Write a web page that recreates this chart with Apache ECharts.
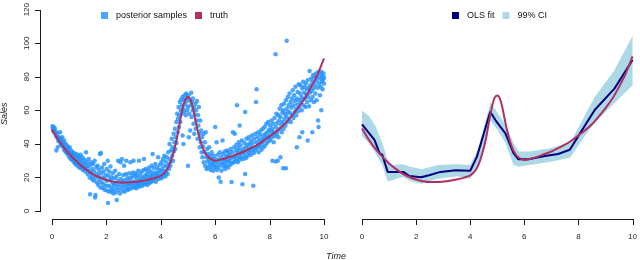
<!DOCTYPE html>
<html><head><meta charset="utf-8">
<script src="https://cdn.jsdelivr.net/npm/echarts@6/dist/echarts.min.js"></script>
<style>html,body{margin:0;padding:0;background:#fff}#c{width:640px;height:260px}</style>
</head><body><div id="c"></div>
<script>
const xTicks = [0, 2, 4, 6, 8, 10];
const yTicks = [0, 20, 40, 60, 80, 100, 120];

const samples = [
[0.02,50.5],[0.03,49],[0.05,47.5],[0.06,50],[0.08,48],[0.1,46.5],[0.11,49],[0.13,47],[0.15,45],[0.16,36],[0.18,44],[0.2,46.5],[0.21,38],[0.22,43],[0.24,41.5],[0.26,44],[0.28,42],[0.3,47],[0.31,40],[0.33,43],[0.35,39],[0.37,41],[0.38,44],[0.4,38.5],[0.42,40.5],[0.44,36.5],[0.45,42],[0.47,38],[0.49,35.5],[0.5,40],
[0.52,37],[0.54,34.5],[0.55,39],[0.57,36],[0.59,33.5],[0.6,37.5],[0.62,35],[0.64,32],[0.65,38],[0.67,34],[0.69,31],[0.7,36],[0.72,33],[0.74,30.5],[0.75,35],[0.77,32.5],[0.79,29.5],[0.8,34.5],[0.82,31],[0.84,28.5],[0.85,33],[0.87,30],[0.89,27.5],[0.9,34],[0.92,29.5],[0.94,31.5],[0.95,27],[0.97,33],[0.99,29],[1.0,26],
[1.02,31],[1.04,28],[1.05,33.5],[1.07,25.5],[1.09,30],[1.1,27],[1.12,32],[1.14,24.5],[1.16,28.5],[1.18,26],[1.2,30.5],[1.22,23.5],[1.24,27.5],[1.25,35],[1.27,25],[1.29,29],[1.31,22],[1.33,26.5],[1.35,31],[1.37,24],[1.38,20],[1.4,10],[1.41,27.5],[1.43,22.5],[1.45,29],[1.47,19],[1.48,25],[1.5,21],
[1.52,28],[1.54,18],[1.55,23.5],[1.57,30],[1.58,8],[1.6,9.5],[1.61,20],[1.63,26],[1.65,17],[1.66,22],[1.68,27],[1.7,15.5],[1.71,20.5],[1.73,24.5],[1.75,18.5],[1.76,34],[1.78,14],[1.8,22.5],[1.8,34.5],[1.82,17],[1.84,26],[1.86,20],[1.87,13.5],[1.89,23.5],[1.9,16],[1.92,28],[1.94,19],[1.95,12.5],[1.97,21.5],[1.99,15],
[2.01,25],[2.02,18],[2.04,12],[2.05,30],[2.06,4.7],[2.07,21],[2.09,15],[2.1,23.5],[2.12,11.5],[2.13,18.5],[2.15,26.5],[2.17,14],[2.18,20],[2.2,12],[2.22,17],[2.23,22.5],[2.25,10.5],[2.27,15.5],[2.28,19.5],[2.3,13],[2.32,24],[2.33,16.5],[2.35,11],[2.37,20.5],[2.38,6.5],[2.4,14.5],[2.42,18],[2.43,30],[2.45,12.5],[2.47,22],[2.48,16],[2.5,10.5],
[2.52,29],[2.53,19],[2.55,14],[2.57,31],[2.58,17.5],[2.6,12],[2.62,21.5],[2.63,15.5],[2.65,27],[2.67,11.5],[2.68,18.5],[2.7,14],[2.72,22],[2.73,30],[2.75,16.5],[2.77,12.5],[2.78,20],[2.8,15],[2.82,18],[2.83,13],[2.85,22.5],[2.87,16],[2.88,29],[2.9,19.5],[2.92,13.5],[2.93,17],[2.95,21],[2.97,15],[2.98,23],[3.0,30],
[3.02,17.5],[3.03,14],[3.05,20.5],[3.07,16],[3.08,22.5],[3.1,13.5],[3.12,18.5],[3.13,21],[3.15,15.5],[3.17,24],[3.18,17],[3.2,30],[3.22,14.5],[3.23,19.5],[3.25,22],[3.27,16.5],[3.28,18],[3.3,23.5],[3.32,15],[3.33,20],[3.35,17.5],[3.37,24.5],[3.38,31],[3.4,16],[3.42,21],[3.43,19],[3.45,25],[3.47,17],[3.48,22],
[3.5,15.5],[3.52,20],[3.53,24],[3.55,18],[3.57,26],[3.58,16.5],[3.6,21.5],[3.62,19],[3.63,23.5],[3.65,17.5],[3.67,27],[3.68,20.5],[3.7,34],[3.72,22.5],[3.73,18],[3.75,25.5],[3.77,19.5],[3.78,21.5],[3.8,28],[3.82,17.5],[3.83,23],[3.85,20],[3.87,26],[3.88,22],[3.9,32],[3.92,19],[3.93,24.5],[3.95,21],[3.97,27.5],[3.98,20],
[4.0,23.5],[4.02,29],[4.03,19.5],[4.05,25],[4.07,22],[4.08,31],[4.1,21],[4.12,27],[4.13,33],[4.15,24],[4.17,20.5],[4.18,29.5],[4.2,23],[4.22,32],[4.23,26.5],[4.25,22],[4.27,35],[4.28,28],[4.3,25],[4.32,40],[4.33,31],[4.35,27],[4.37,36],[4.38,29.5],[4.4,43],[4.42,33],[4.43,38],[4.45,30],[4.47,46],[4.48,35.5],[4.5,41],
[4.52,49],[4.53,37],[4.55,44],[4.57,53],[4.58,40.5],[4.6,58],[4.62,47],[4.63,55],[4.65,62],[4.67,50],[4.68,57],[4.7,65],[4.72,53],[4.73,60],[4.75,66.5],[4.77,58],[4.78,63],[4.8,68],[4.8,45],[4.82,61],[4.83,40],[4.85,66],[4.87,59],[4.88,69],[4.9,63.5],[4.92,57],[4.93,70],[4.95,65.5],[4.97,60],[4.98,67.5],[5.0,27],
[5.0,62],[5.02,69],[5.03,44],[5.05,58],[5.07,66],[5.08,48],[5.1,63],[5.12,70.5],[5.13,56],[5.15,65],[5.17,60],[5.18,67],[5.2,52],[5.22,62],[5.23,46],[5.25,57.5],[5.27,64],[5.28,49],[5.3,60],[5.32,54],[5.33,65.5],[5.35,43],[5.37,57],[5.38,51],[5.4,62],[5.42,46],[5.43,38],[5.45,54],[5.47,41],[5.48,48],[5.5,35],
[5.52,44],[5.53,32],[5.55,38.5],[5.57,46],[5.58,29],[5.6,35],[5.62,41],[5.63,27],[5.65,47],[5.67,32],[5.68,25],[5.7,37],[5.72,29.5],[5.73,34],[5.75,26],[5.77,31],[5.78,38],[5.8,27.5],[5.82,33],[5.83,24.5],[5.85,29],[5.87,35],[5.88,26.5],[5.9,31],[5.92,28],[5.93,24],[5.95,33],[5.97,29.5],[5.98,26],[6.0,50],
[6.02,31],[6.03,27],[6.05,41],[6.07,24.5],[6.08,29],[6.1,33.5],[6.12,26],[6.13,20],[6.15,30.5],[6.17,35],[6.18,27.5],[6.2,17.5],[6.22,32],[6.23,24],[6.25,29],[6.27,42],[6.28,34],[6.3,26.5],[6.32,31],[6.33,28],[6.35,35.5],[6.37,25],[6.38,30],[6.4,33],[6.42,27],[6.43,36],[6.45,29.5],[6.47,32.5],[6.48,26],[6.5,35],
[6.52,30],[6.53,33.5],[6.55,27.5],[6.57,37],[6.58,31.5],[6.6,17.3],[6.62,28.5],[6.63,35],[6.65,47],[6.67,32],[6.68,29],[6.7,38],[6.72,46],[6.73,33],[6.75,30],[6.77,36],[6.78,39.5],[6.8,63],[6.8,31.5],[6.82,34.5],[6.83,29],[6.85,37.5],[6.87,41],[6.88,33],[6.9,51],[6.9,30.5],[6.92,36],[6.93,39],[6.95,32],[6.97,34.5],[6.98,42],
[7.0,16],[7.02,31],[7.03,37],[7.05,35],[7.07,40.5],[7.08,33],[7.1,59],[7.1,22],[7.12,38],[7.13,31.5],[7.15,43],[7.17,35.5],[7.18,39.5],[7.2,33],[7.22,37],[7.23,44],[7.25,34.5],[7.27,40],[7.28,36.5],[7.3,42],[7.32,33.5],[7.33,38],[7.35,45],[7.37,36],[7.38,40.5],[7.4,15],[7.42,34.5],[7.43,43],[7.45,38],[7.47,46],[7.48,36],
[7.5,65],[7.52,72.5],[7.52,41],[7.53,37.5],[7.55,44],[7.57,39],[7.58,47],[7.6,35],[7.62,42],[7.63,38.5],[7.65,45.5],[7.67,40],[7.68,48],[7.7,36.5],[7.72,43],[7.73,41],[7.75,49],[7.77,38],[7.78,45],[7.8,42.5],[7.82,50],[7.83,39],[7.85,46],[7.87,43.5],[7.88,52],[7.9,40.5],[7.92,47],[7.93,44],[7.95,53],[7.97,41.5],[7.98,48.5],
[8.0,45],[8.02,51],[8.03,42.5],[8.05,47.5],[8.07,54],[8.08,44],[8.1,30],[8.1,49],[8.12,46],[8.13,52],[8.15,41],[8.17,47],[8.18,55.5],[8.2,44.5],[8.22,93.5],[8.22,29.5],[8.23,50],[8.25,58],[8.27,46],[8.28,52.5],[8.3,30],[8.3,48],[8.32,57],[8.33,44],[8.35,54],[8.37,61],[8.38,49],[8.4,32],[8.4,56],[8.42,51.5],[8.43,63],[8.45,47],[8.47,58.5],[8.48,53],
[8.5,25.5],[8.5,60],[8.52,49],[8.53,64],[8.55,55],[8.57,58],[8.58,51],[8.6,25.5],[8.6,66],[8.62,56.5],[8.63,101.5],[8.63,61],[8.65,53],[8.67,68],[8.68,59],[8.7,63],[8.72,55],[8.73,70],[8.75,58.5],[8.77,65],[8.78,53],[8.8,61.5],[8.82,67],[8.83,57],[8.85,72],[8.87,63],[8.88,55.5],[8.9,69],[8.92,59],[8.93,65.5],[8.95,74],[8.97,61],[8.98,57],
[9.0,38],[9.0,67],[9.02,63.5],[9.03,71],[9.05,59.5],[9.07,75.5],[9.08,66],[9.1,44],[9.1,62],[9.12,70],[9.13,75],[9.15,64.5],[9.17,68],[9.18,60],[9.2,47],[9.2,73],[9.22,66.5],[9.23,77],[9.25,63],[9.27,70.5],[9.28,74],[9.3,67],[9.32,62],[9.33,76],[9.35,69.5],[9.37,72.5],[9.38,65],[9.4,42],[9.4,78],[9.42,68],[9.43,73.5],[9.45,62.5],[9.47,83.5],[9.48,70.5],
[9.5,75],[9.52,66],[9.53,79],[9.55,71.5],[9.57,47],[9.57,77],[9.58,68],[9.6,81],[9.62,73],[9.63,65],[9.65,79.5],[9.67,75],[9.68,70],[9.7,82],[9.72,77.5],[9.73,66],[9.75,80],[9.77,73.5],[9.78,54],[9.8,83],[9.8,50],[9.82,76],[9.83,79],[9.85,69],[9.87,81.5],[9.88,74],[9.9,60],[9.9,83],[9.92,77],[9.93,80],[9.95,72.5],[9.97,78.5],[9.98,82],[10.0,76],[10.0,79.5]
];

const truthT = [0,0.25,0.5,0.75,1,1.25,1.5,1.75,2,2.25,2.5,2.75,3,3.25,3.5,3.75,4,4.2,4.35,4.5,4.6,4.7,4.8,4.9,5.0,5.1,5.2,5.3,5.4,5.5,5.6,5.75,5.9,6,6.25,6.5,6.75,7,7.25,7.5,7.75,8,8.25,8.5,8.75,9,9.25,9.5,9.75,10];
const truthV = [48.5,42,36.5,32,28,24.8,22,20,18.5,17.5,17,17,17.3,17.8,18.5,19.5,21,24,29,37,44,53,61,66.5,68,66,60,52,45,39.5,35.5,32,30.5,30,30.8,32,33.5,35,37,39,41.5,44.5,47.5,51,55.5,60.5,66,73,81,91];

const olsT = [0,0.46,0.65,0.75,0.8,0.95,1.53,1.75,2.18,2.48,2.9,3.46,4.0,4.25,4.74,4.93,5.3,5.6,5.78,6.15,6.76,7.25,7.68,8.1,8.6,9.33,10];
const olsV = [51,41.8,34,33,34,23,23,20.6,19.8,21,23,24,23.7,32,58.4,53.5,45.7,34,30.4,30.4,32.4,33.5,36,46.7,59.4,72,88.8];

const ciT = [0,0.25,0.5,0.75,0.95,1.1,1.5,1.8,2.2,2.8,3.5,4.0,4.3,4.75,5.0,5.3,5.6,5.8,6.2,7.0,7.7,8.1,8.6,9.3,10];
const ciLower = [44,40,34,27,17.5,18,20,17.5,16,19,20.5,19,27,53,48,40,27,26,27,29,31.5,41,52,63,74];
const ciUpper = [59,56,50,40,30,27,27.5,26,24.5,27,27.5,27,37,64,58,51,40,35,35,37,40.5,52,67,82,103];

const C_SCAT = '#1E90FF', C_TRUTH = '#B03060', C_OLS = '#000080', C_CI = '#ADD8E6';
const FONT = 'Liberation Sans';

const zip = (a, b) => a.map((v, i) => [v, b[i]]);

const GRIDS = [
  {left: 52, right: 316, top: 7, bottom: 49},
  {left: 362, right: 5, top: 7, bottom: 49}
];

function xAxisCfg(gi) {
  return {
    type: 'value', gridIndex: gi, min: 0, max: 10, interval: 2, offset: 9,
    splitLine: {show: false},
    axisLine: {show: false, onZero: false},
    axisTick: {show: false},
    axisLabel: {color: '#222', fontSize: 8, fontFamily: FONT, margin: 13}
  };
}

const chart = echarts.init(document.getElementById('c'), null, {renderer: 'canvas'});
let errMsg = '';
try {
  chart.setOption({
    animation: false,
    backgroundColor: '#fff',
    textStyle: {fontFamily: FONT},
    grid: GRIDS,
    xAxis: [xAxisCfg(0), xAxisCfg(1)],
    yAxis: [
      {type: 'value', gridIndex: 0, min: 0, max: 120, interval: 20, offset: 11,
       splitLine: {show: false},
       axisLine: {show: false, onZero: false},
       axisTick: {show: false},
       axisLabel: {color: '#222', fontSize: 8, fontFamily: FONT, rotate: 90, margin: 10}},
      {type: 'value', gridIndex: 1, min: 0, max: 120, interval: 20,
       splitLine: {show: false}, axisLine: {show: false, onZero: false},
       axisTick: {show: false}, axisLabel: {show: false}}
    ],
    legend: [
      {left: 96, top: 6, itemWidth: 7, itemHeight: 7, itemGap: 8, icon: 'rect',
       data: ['posterior samples', 'truth'],
       textStyle: {fontSize: 9, fontFamily: FONT, color: '#111', padding: [0, 0, 0, 3]}},
      {left: 447, top: 6, itemWidth: 7, itemHeight: 7, itemGap: 8, icon: 'rect',
       data: ['OLS fit', '99% CI'],
       textStyle: {fontSize: 9, fontFamily: FONT, color: '#111', padding: [0, 0, 0, 3]}}
    ],
    graphic: [
      {type: 'text', x: 326, y: 252, style: {text: 'Time', font: 'italic 9px "Liberation Sans"', fill: '#222'}},
      {type: 'text', x: 0, y: 125, rotation: Math.PI / 2, style: {text: 'Sales', font: 'italic 9px "Liberation Sans"', fill: '#222'}}
    ],
    series: [
      {name: 'posterior samples', type: 'scatter', xAxisIndex: 0, yAxisIndex: 0,
       data: samples, symbolSize: 4.5, itemStyle: {color: C_SCAT}, z: 2},
      {name: 'truth', type: 'line', xAxisIndex: 0, yAxisIndex: 0, data: zip(truthT, truthV),
       smooth: 0.3, showSymbol: false, symbol: 'none', color: C_TRUTH,
       lineStyle: {color: C_TRUTH, width: 2}, z: 3},
      {name: '99% CI', type: 'custom', xAxisIndex: 1, yAxisIndex: 1, data: [[0, 0]],
       itemStyle: {color: C_CI}, z: 1, clip: false,
       renderItem: function (params, api) {
         const up = ciT.map((t, i) => api.coord([t, ciUpper[i]]));
         const lo = ciT.map((t, i) => api.coord([t, ciLower[i]])).reverse();
         return {type: 'polygon', shape: {points: up.concat(lo)}, style: {fill: C_CI}};
       }},
      {name: 'OLS fit', type: 'line', xAxisIndex: 1, yAxisIndex: 1, data: zip(olsT, olsV),
       symbol: 'none', color: C_OLS, lineStyle: {color: C_OLS, width: 2}, z: 2},
      {name: 'truth (right panel)', type: 'line', xAxisIndex: 1, yAxisIndex: 1, data: zip(truthT, truthV),
       smooth: 0.3, symbol: 'none', color: C_TRUTH, lineStyle: {color: C_TRUTH, width: 2}, z: 3}
    ]
  });
} catch (e) { errMsg = String(e && e.message || e); }

// R-style detached axis lines and outward ticks, placed through the chart's scales
// and added straight to the zrender scene so they do not depend on a second setOption.
function toPx(gi, x, y) {
  const g = GRIDS[gi], w = 640 - g.left - g.right, h = 260 - g.top - g.bottom;
  const ref = [g.left + x / 10 * w, g.top + h - y / 120 * h];
  let p = null;
  try { p = chart.convertToPixel({gridIndex: gi}, [x, y]); } catch (e) { p = null; }
  if (!p || !isFinite(p[0]) || !isFinite(p[1]) || Math.abs(p[0] - ref[0]) > 6 || Math.abs(p[1] - ref[1]) > 6) p = ref;
  return p;
}
const rects = [];
[0, 1].forEach(gi => {
  const a = toPx(gi, xTicks[0], 0);
  const b = toPx(gi, xTicks[xTicks.length - 1], 0);
  const y = Math.round(a[1] + 8);
  rects.push([Math.round(a[0]), y, Math.round(b[0]) - Math.round(a[0]) + 1, 1]);
  xTicks.forEach(t => {
    const p = toPx(gi, t, 0);
    rects.push([Math.round(p[0]), y, 1, 6]);
  });
});
{
  const lo = toPx(0, 0, yTicks[0]);
  const hi = toPx(0, 0, yTicks[yTicks.length - 1]);
  const x = Math.round(lo[0] - 12);
  rects.push([x, Math.round(hi[1]), 1, Math.round(lo[1]) - Math.round(hi[1]) + 1]);
  yTicks.forEach(v => {
    const p = toPx(0, 0, v);
    rects.push([x - 5, Math.round(p[1]), 6, 1]);
  });
}
const zr = chart.getZr();
rects.forEach(r => {
  zr.add(new echarts.graphic.Rect({
    shape: {x: r[0], y: r[1], width: r[2], height: r[3]},
    style: {fill: '#1a1a1a'}, z: 1000, zlevel: 0, silent: true
  }));
});
if (errMsg) {
  zr.add(new echarts.graphic.Text({style: {text: errMsg.slice(0, 120), x: 2, y: 250, fontSize: 6, fill: '#bbb'}, z: 1000}));
}
</script></body></html>
